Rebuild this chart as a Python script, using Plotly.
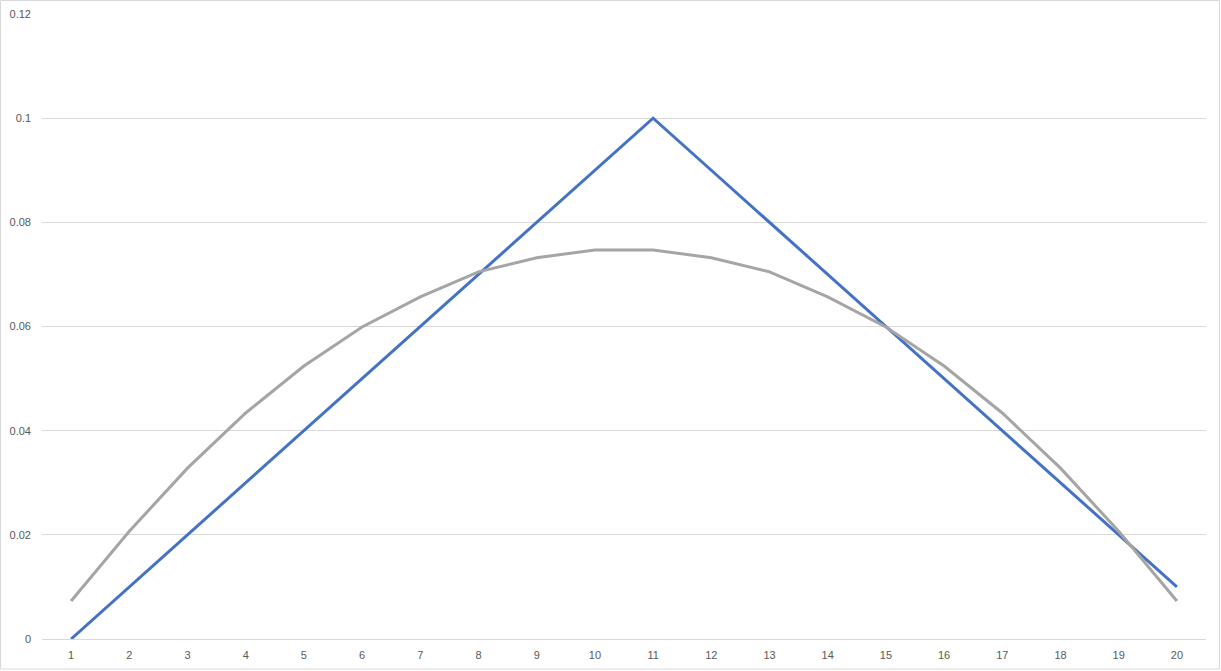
import plotly.graph_objects as go

categories = [str(i) for i in range(1, 21)]
series_triangle = [0.00, 0.01, 0.02, 0.03, 0.04, 0.05, 0.06, 0.07, 0.08, 0.09,
                   0.10, 0.09, 0.08, 0.07, 0.06, 0.05, 0.04, 0.03, 0.02, 0.01]
series_curve = [0.0073, 0.0207, 0.0328, 0.0434, 0.0524, 0.0599, 0.0657, 0.0705, 0.0732, 0.0747,
                0.0747, 0.0732, 0.0705, 0.0657, 0.0599, 0.0524, 0.0434, 0.0328, 0.0207, 0.0073]
y_ticks = [0, 0.02, 0.04, 0.06, 0.08, 0.1, 0.12]

W, H = 1221, 671
ml, mr, mt, mb = 42, 15, 14, 32

fig = go.Figure()
fig.add_trace(go.Scatter(x=categories, y=series_triangle, mode="lines",
                         line=dict(color="#4472C4", width=3), showlegend=False,
                         hoverinfo="skip"))
fig.add_trace(go.Scatter(x=categories, y=series_curve, mode="lines",
                         line=dict(color="#A5A5A5", width=3), showlegend=False,
                         hoverinfo="skip"))

font = dict(family="Liberation Sans, Arial, sans-serif", size=11, color="#595959")
fig.update_layout(
    width=W, height=H,
    margin=dict(l=ml, r=mr, t=mt, b=mb),
    paper_bgcolor="white", plot_bgcolor="white",
    font=font,
    xaxis=dict(type="category", range=[-0.5, 19.5], showgrid=False, automargin=False,
               showline=True, linecolor="#D9D9D9", linewidth=1,
               ticks="", tickfont=font, ticklabelstandoff=6, zeroline=False),
    yaxis=dict(range=[0, 0.12], tickvals=y_ticks, ticktext=[f"{v:g}" for v in y_ticks],
               showgrid=True, gridcolor="#D9D9D9", gridwidth=1, automargin=False,
               showline=False, zeroline=False, ticks="", tickfont=font,
               ticklabelstandoff=10),
    shapes=[dict(type="rect", xref="paper", yref="paper",
                 x0=-(ml - 0.5) / (W - ml - mr), x1=1 + (mr - 1.5) / (W - ml - mr),
                 y0=-(mb - 2.0) / (H - mt - mb), y1=1 + (mt - 0.5) / (H - mt - mb),
                 line=dict(color="#D9D9D9", width=1), layer="below")],
)

fig.write_html("out.html", config={"displayModeBar": False},
               post_script="document.body.style.margin='0px';document.body.style.overflow='hidden';")
